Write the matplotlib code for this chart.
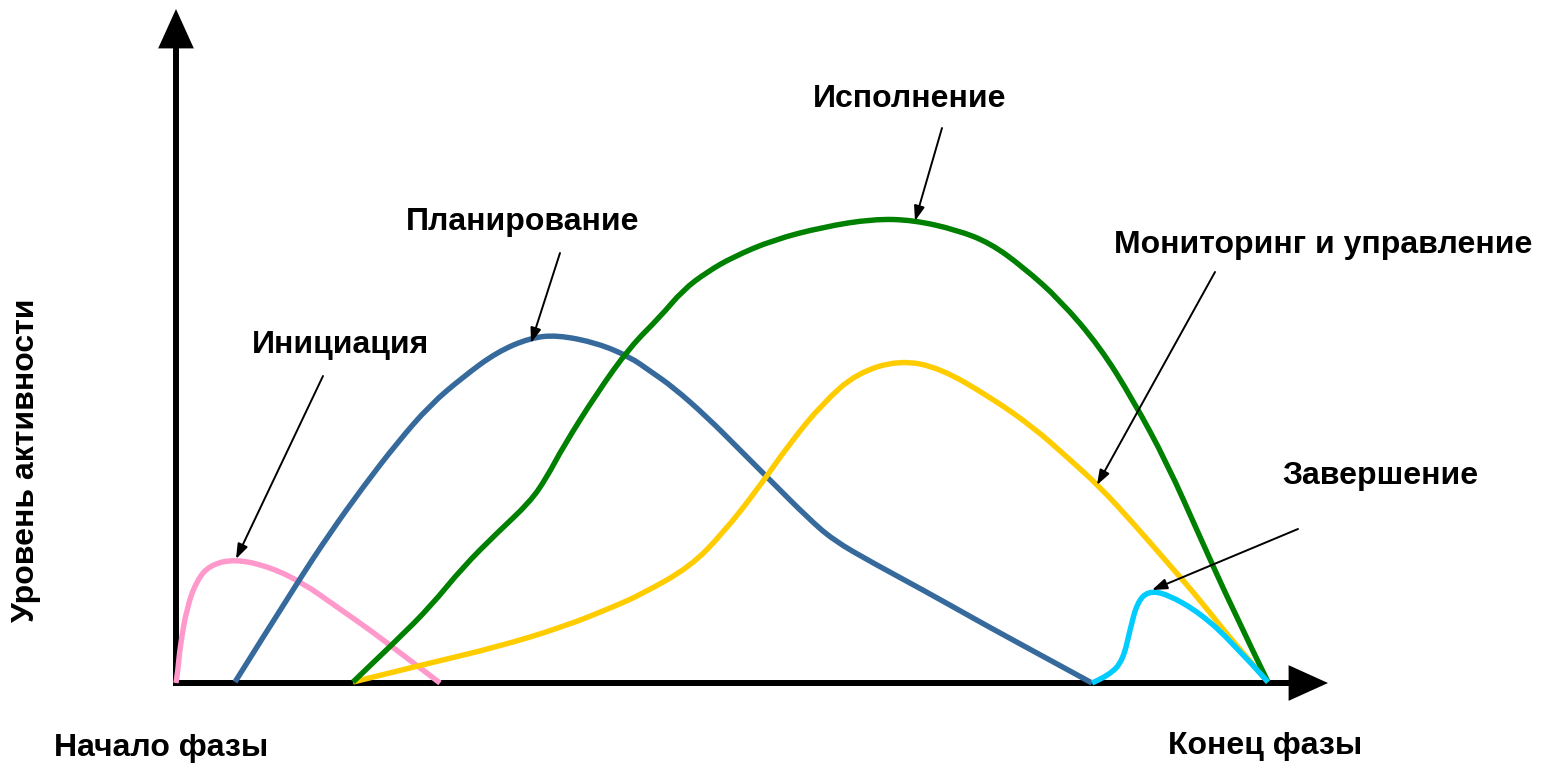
import matplotlib.pyplot as plt
from matplotlib.path import Path
from matplotlib.patches import PathPatch
import numpy as np

plt.rcParams['font.family'] = ['Liberation Sans', 'DejaVu Sans']

# curves (x, y in picture units, y grows downwards)
init_x = [176, 178, 180, 187, 197, 210, 235, 270, 303, 337, 370, 403, 440]
init_y = [683, 670, 647, 607, 580, 565, 559, 567, 583, 607, 630, 655, 683]

plan_x = [235, 297, 330, 363, 397, 430, 463, 497, 530, 557, 597, 630, 650, 673, 707,
          740, 773, 807, 833, 873, 923, 973, 1000, 1092]
plan_y = [682, 583, 533, 487, 443, 405, 377, 352, 338, 335, 343, 357, 371, 387, 417,
          450, 483, 517, 540, 563, 590, 618, 633, 683]

exec_x = [353, 397, 430, 463, 497, 530, 547, 563, 597, 630, 660, 683, 707, 733, 773,
          823, 873, 913, 957, 990, 1023, 1060, 1100, 1133, 1167, 1200, 1233, 1268]
exec_y = [682, 640, 607, 567, 533, 502, 477, 447, 393, 347, 317, 290, 272, 257, 240,
          227, 219, 220, 230, 243, 267, 300, 347, 400, 463, 537, 610, 682]

mon_x = [353, 430, 497, 563, 613, 640, 690, 723, 757, 790, 823, 857, 900, 940, 990,
         1033, 1067, 1100, 1133, 1167, 1200, 1233, 1268]
mon_y = [682, 663, 647, 627, 607, 595, 567, 533, 490, 443, 403, 373, 360, 368, 397,
         427, 457, 487, 523, 562, 600, 642, 682]

close_x = [1092, 1110, 1123, 1130, 1137, 1148, 1167, 1200, 1233, 1268]
close_y = [683, 675, 660, 630, 603, 591, 594, 613, 643, 682]

# labels: text, position, arrow start, arrow tip
labels = ['Инициация', 'Планирование', 'Исполнение', 'Мониторинг и управление', 'Завершение']
label_x = [341, 523, 910, 1323, 1380]
label_y = [345, 222, 99, 245, 476]
arr_from = [(323, 376), (560, 253), (942, 128), (1215, 272), (1298, 529)]
arr_to = [(236, 559), (531, 343), (915, 221), (1097, 485), (1152, 590)]


def smooth_curve(ax, xs, ys, color, z):
    # quadratic bezier through midpoints, drawn by matplotlib's path renderer
    pts = np.column_stack([xs, ys]).astype(float)
    verts = [pts[0]]
    codes = [Path.MOVETO]
    for i in range(1, len(pts) - 2):
        verts += [pts[i], (pts[i] + pts[i + 1]) / 2]
        codes += [Path.CURVE3, Path.CURVE3]
    verts += [pts[-2], pts[-1]]
    codes += [Path.CURVE3, Path.CURVE3]
    ax.add_patch(PathPatch(Path(verts, codes), fill=False, edgecolor=color, lw=3.9,
                           capstyle='butt', joinstyle='round', zorder=z))


fig = plt.figure(figsize=(15.44, 7.64), dpi=100)
ax = fig.add_axes([0, 0, 1, 1])
ax.set_xlim(0, 1544)
ax.set_ylim(764, 0)
ax.axis('off')

# axes with arrows
axprops = dict(arrowstyle='-|>,head_length=2.1,head_width=0.95', mutation_scale=10,
               lw=4.3, color='black', shrinkA=0, shrinkB=0,
               joinstyle='miter', capstyle='butt')
ax.annotate('', xy=(176, 9), xytext=(176, 686), arrowprops=axprops, zorder=1)
ax.annotate('', xy=(1328, 683), xytext=(173, 683), arrowprops=axprops, zorder=1)

smooth_curve(ax, init_x, init_y, '#FF99CC', 2)
smooth_curve(ax, plan_x, plan_y, '#376A9C', 3)
smooth_curve(ax, mon_x, mon_y, '#FFCC00', 4)
smooth_curve(ax, exec_x, exec_y, '#008000', 5)
smooth_curve(ax, close_x, close_y, '#00CCFF', 6)

small = dict(arrowstyle='-|>,head_length=0.9,head_width=0.32', mutation_scale=10,
             lw=1.4, color='black', shrinkA=0, shrinkB=0)
for t, x, y, a, b in zip(labels, label_x, label_y, arr_from, arr_to):
    ax.text(x, y, t, fontsize=23, fontweight='bold', ha='center', va='center')
    ax.annotate('', xy=b, xytext=a, arrowprops=small, zorder=7)

ax.text(161, 748, 'Начало фазы', fontsize=23, fontweight='bold', ha='center', va='center')
ax.text(1265, 746, 'Конец фазы', fontsize=23, fontweight='bold', ha='center', va='center')
ax.text(26, 460, 'Уровень активности', fontsize=23, fontweight='bold', ha='center',
        va='center', rotation=90)

plt.savefig('out.png', dpi=100)
